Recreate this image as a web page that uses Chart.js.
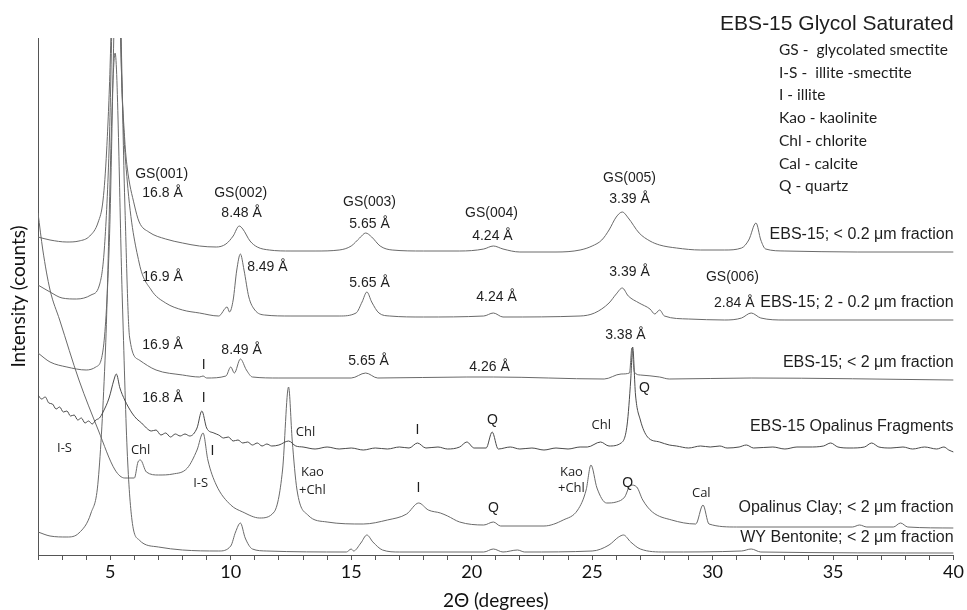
<!DOCTYPE html>
<html lang="en">
<head>
<meta charset="UTF-8">
<title>EBS-15 Glycol Saturated</title>
<script src="https://cdn.jsdelivr.net/npm/chart.js"></script>
<style>
    body { margin: 0; background: #fff; }
    #wrap { width: 967px; height: 610px; }
</style>
</head>
<body>
<div id="wrap"><canvas id="chart" width="967" height="610"></canvas></div>
<script>
// [2-theta (deg), counts above the trace's own baseline]
const ebs15Fine = [
    [2.0,15],[2.5,12],[3.2,10],[3.7,11],[4.15,16],[4.5,30],[4.7,52],[4.85,102],[5.0,192],[5.25,450],
    [5.45,192],[5.6,112],[5.7,85],[6.0,47],[6.2,30],[6.6,20],[7.3,13],[8.0,9],[8.7,6],[9.4,5],
    [9.8,8],[10.1,16],[10.35,26],[10.5,23],[10.8,11],[11.1,5],[11.6,2],[12.5,1],[13.5,1],[14.5,2],
    [15.0,6],[15.35,14],[15.6,19],[15.85,15],[16.2,6],[16.7,2],[18,1],[19.5,1],[20.5,3],[20.9,6],
    [21.3,3],[22,0],[23.5,0],[24.5,2],[25.0,6],[25.4,12],[25.7,22],[26.0,35],[26.25,40],[26.5,34],
    [26.95,19],[27.4,11],[27.8,7],[28.5,4],[29.5,2],[30.5,2],[31.2,4],[31.5,12],[31.8,29],[32.0,12],
    [32.2,3],[33,1],[36,0],[40,0]
];
const ebs15Mid = [
    [2.0,35],[2.5,28],[3.0,22],[3.6,21],[4.2,25],[4.55,35],[4.75,70],[4.95,170],[5.25,450],[5.5,220],
    [5.7,140],[6.2,57],[6.7,30],[7.3,17],[8.0,10],[8.7,7],[9.5,4],[9.85,13],[9.95,8],[10.1,20],
    [10.25,50],[10.4,66],[10.55,50],[10.75,23],[11.0,10],[11.4,5],[12.5,4],[14.5,4],[15.2,7],[15.45,18],
    [15.65,28],[15.85,18],[16.15,7],[16.6,4],[18,3],[20.5,4],[20.9,7],[21.3,3],[24.5,4],[25.1,7],
    [25.7,17],[26.0,26],[26.25,32],[26.5,24],[26.95,17],[27.4,11],[27.6,6],[27.8,10],[28.0,4],[29,1],
    [30.5,0],[31.2,2],[31.6,7],[32.0,2],[33,0],[40,0]
];
const ebs15Bulk = [
    [2.0,27],[2.5,18],[3.2,13],[4.0,10],[4.4,13],[4.7,30],[4.95,130],[5.3,450],[5.6,180],[5.8,43],
    [6.2,20],[6.9,10],[8.0,5],[8.7,3],[8.85,4],[9.0,2],[9.8,4],[10.0,13],[10.15,7],[10.4,21],
    [10.65,10],[10.9,3],[12,2],[15,2],[15.6,7],[16.1,2],[19.8,3],[20.9,3],[25.5,1],[26.2,6],
    [26.55,7],[26.65,32],[26.75,8],[27.0,5],[27.8,3],[28.2,1],[31.6,2],[40,0]
];
const opalinusFragments = [
    [2.0,55],[2.15,51],[2.3,53],[2.45,47],[2.6,46],[2.75,41],[2.9,43],[3.05,38],[3.2,39],[3.35,34],
    [3.5,35],[3.65,30],[3.8,32],[3.95,27],[4.1,29],[4.25,26],[4.4,30],[4.55,32],[4.7,38],[4.95,52],
    [5.15,70],[5.25,76],[5.4,62],[5.6,50],[5.9,37],[6.1,31],[6.3,27],[6.5,22],[6.7,19],[6.9,20],
    [7.1,15],[7.3,17],[7.5,13],[7.7,16],[7.9,14],[8.1,16],[8.3,14],[8.6,22],[8.8,39],[9.0,22],
    [9.3,17],[9.5,15],[9.7,12],[9.9,13],[10.1,9],[10.3,10],[10.5,7],[10.7,8],[10.9,5],[11.1,7],
    [11.3,4],[11.5,6],[11.7,4],[12.0,5],[12.4,9],[12.7,4],[13.0,3],[13.5,1],[14.0,3],[14.5,1],
    [15,2],[15.5,0],[16,2],[16.5,1],[17.0,3],[17.4,2],[17.75,7],[18.1,2],[18.6,3],[19.0,1],
    [19.5,3],[19.8,8],[20.1,2],[20.6,2],[20.85,18],[21.1,1],[21.6,3],[22,1],[22.5,2],[23,0],
    [23.5,2],[24.0,1],[24.5,3],[24.8,3],[25.35,8],[25.7,4],[26.2,7],[26.45,25],[26.6,70],[26.68,103],
    [26.8,55],[27.0,30],[27.3,13],[27.8,8],[28.2,5],[28.5,4],[29.0,2],[29.5,4],[29.9,3],[30.3,4],
    [30.6,2],[31.1,3],[31.4,5],[31.7,2],[32.5,3],[33.0,1],[33.5,3],[34.0,3],[34.6,4],[34.9,7],
    [35.2,3],[35.7,2],[36.3,3],[36.6,7],[36.9,3],[37.4,2],[37.9,3],[38.3,1],[38.8,3],[39.3,1],
    [39.6,3],[39.8,0],[40,-2]
];
const opalinusClay = [
    [2.0,315],[2.2,278],[2.5,238],[2.9,208],[3.7,148],[4.5,98],[5.2,58],[5.6,50],[6.0,50],[6.15,66],
    [6.25,68],[6.5,56],[7.0,53],[7.6,54],[8.2,60],[8.6,78],[8.85,95],[9.05,68],[9.4,43],[10.0,23],
    [10.5,16],[11.2,10],[11.8,16],[12.15,58],[12.4,141],[12.55,88],[12.75,38],[13.2,13],[14,6],[15.5,4],
    [16.5,8],[17.3,14],[17.8,25],[18.2,18],[18.7,15],[19.0,12],[19.5,6],[20.5,3],[20.9,6],[21.2,2],
    [23,2],[23.8,8],[24.4,18],[24.75,38],[24.95,63],[25.2,40],[25.6,25],[26.0,26],[26.35,31],[26.6,43],
    [26.85,41],[27.1,28],[27.5,16],[28.3,8],[29.3,4],[29.6,23],[29.85,4],[31,1],[35.8,1],[36.1,3],
    [36.4,1],[37.5,1],[37.8,5],[38.1,1],[40,0]
];
const wyBentonite = [
    [2.0,21],[2.5,17],[3.2,16],[3.7,20],[4.2,40],[4.5,73],[4.8,203],[5.2,500],[5.5,253],[5.7,103],
    [5.9,33],[6.2,13],[7.0,6],[8.0,3],[9.5,2],[10.0,7],[10.2,21],[10.4,30],[10.6,15],[10.9,4],
    [11.5,2],[14.8,1],[15.0,4],[15.1,2],[15.4,10],[15.65,18],[15.9,11],[16.3,3],[17,1],[20.5,1],
    [20.9,4],[21.3,1],[21.9,3],[22.2,1],[25.0,2],[25.7,8],[26.1,16],[26.3,18],[26.6,11],[27.0,4],
    [28,1],[31.2,2],[31.6,4],[32.0,1],[40,0]
];

const traces = [ebs15Fine, ebs15Mid, ebs15Bulk, opalinusFragments, opalinusClay, wyBentonite];
const stackOffsets = [303, 235, 175, 105, 27, 2];

const sampleNames = [
    'EBS-15; < 0.2 \u03bcm fraction',
    'EBS-15; 2 - 0.2 \u03bcm fraction',
    'EBS-15; < 2 \u03bcm fraction',
    'EBS-15 Opalinus Fragments',
    'Opalinus Clay; < 2 \u03bcm fraction',
    'WY Bentonite; < 2 \u03bcm fraction'
];
const sampleNameY = [320, 252, 192, 128, 47, 17];

const chartTitle = 'EBS-15 Glycol Saturated';
const legendLines = [
    'GS -  glycolated smectite',
    'I-S -  illite -smectite',
    'I - illite',
    'Kao - kaolinite',
    'Chl - chlorite',
    'Cal - calcite',
    'Q - quartz'
];

// [text, 2-theta, height]
const peakLabels = [
    ['GS(001)', 7.13, 381], ['16.8 \u00c5', 7.17, 362],
    ['GS(002)', 10.41, 362], ['8.48 \u00c5', 10.45, 342],
    ['GS(003)', 15.76, 353], ['5.65 \u00c5', 15.76, 331],
    ['GS(004)', 20.82, 342], ['4.24 \u00c5', 20.86, 319],
    ['GS(005)', 26.55, 377], ['3.39 \u00c5', 26.55, 356],
    ['16.9 \u00c5', 7.17, 278], ['8.49 \u00c5', 11.52, 288], ['5.65 \u00c5', 15.76, 272],
    ['4.24 \u00c5', 21.03, 258], ['3.39 \u00c5', 26.55, 283],
    ['GS(006)', 30.82, 278], ['2.84 \u00c5', 30.9, 252],
    ['16.9 \u00c5', 7.17, 210], ['I', 8.88, 190], ['8.49 \u00c5', 10.45, 205],
    ['5.65 \u00c5', 15.72, 194], ['4.26 \u00c5', 20.74, 188], ['3.38 \u00c5', 26.38, 220],
    ['Q', 27.17, 167],
    ['16.8 \u00c5', 7.17, 157], ['I', 8.88, 157], ['I', 17.75, 125], ['Q', 20.86, 135],
    ['I', 9.24, 104], ['I', 17.79, 67], ['Q', 20.9, 47], ['Q', 26.47, 72]
];
const mineralLabels = [
    ['Chl', 13.1, 123], ['Chl', 25.38, 130],
    ['I-S', 3.1, 107], ['Chl', 6.26, 105], ['I-S', 8.75, 72],
    ['Kao', 13.39, 83], ['+Chl', 13.39, 65],
    ['Kao', 24.14, 83], ['+Chl', 24.14, 67],
    ['Cal', 29.53, 62]
];

const datasets = traces.map((pts, i) => ({
    label: sampleNames[i],
    data: pts.map(p => ({ x: p[0], y: p[1] + stackOffsets[i] })),
    borderColor: i === 3 ? '#4a4a4a' : '#6a6a6a',
    borderWidth: 1,
    pointRadius: 0,
    cubicInterpolationMode: 'monotone',
    fill: false
}));

const textPlugin = {
    id: 'texts',
    afterDatasetsDraw(chart) {
        const { ctx, scales: { x, y } } = chart;
        ctx.save();
        ctx.fillStyle = '#1e1e1e';
        ctx.textBaseline = 'middle';
        ctx.textAlign = 'center';
        ctx.font = '14px "Liberation Sans", Arial, sans-serif';
        peakLabels.forEach(([t, tx, ty]) => ctx.fillText(t, x.getPixelForValue(tx), y.getPixelForValue(ty)));
        ctx.font = '13px "Open Sans", sans-serif';
        mineralLabels.forEach(([t, tx, ty]) => ctx.fillText(t, x.getPixelForValue(tx), y.getPixelForValue(ty)));

        ctx.textAlign = 'right';
        ctx.font = '16px "Liberation Sans", Arial, sans-serif';
        sampleNames.forEach((name, i) => ctx.fillText(name, x.getPixelForValue(40), y.getPixelForValue(sampleNameY[i])));

        ctx.font = '21px "Liberation Sans", Arial, sans-serif';
        ctx.fillText(chartTitle, x.getPixelForValue(40), 24);
        ctx.textAlign = 'left';
        ctx.font = '15.5px Lato, sans-serif';
        legendLines.forEach((t, i) => ctx.fillText(t, 779, 50 + i * 22.7));
        ctx.restore();
    }
};

new Chart(document.getElementById('chart'), {
    type: 'line',
    data: { datasets: datasets },
    options: {
        responsive: false,
        animation: false,
        events: [],
        layout: { padding: { top: 38, right: 13, left: 0, bottom: 0 } },
        plugins: { legend: { display: false }, tooltip: { enabled: false } },
        scales: {
            x: {
                type: 'linear',
                min: 2,
                max: 40,
                afterFit: s => { s.height = 55; },
                ticks: {
                    stepSize: 1,
                    autoSkip: false,
                    maxRotation: 0,
                    padding: 3,
                    color: '#111',
                    font: { family: 'Lato', size: 18, lineHeight: 1 },
                    callback: v => (v % 5 === 0 ? String(v) : '')
                },
                grid: { drawOnChartArea: false, tickLength: 5, color: '#555' },
                border: { color: '#555', width: 1 },
                title: {
                    display: true,
                    text: '2\u0398 (degrees)',
                    color: '#111',
                    padding: { top: 0, bottom: 0 },
                    font: { family: 'Lato', size: 19, lineHeight: 1 }
                }
            },
            y: {
                min: 0,
                max: 517,
                afterFit: s => { s.width = 38; },
                ticks: { display: false },
                grid: { display: false },
                border: { color: '#555', width: 1 },
                title: {
                    display: true,
                    text: 'Intensity (counts)',
                    color: '#111',
                    padding: { top: 9, bottom: 0 },
                    font: { family: 'Lato', size: 19, lineHeight: 1 }
                }
            }
        }
    },
    plugins: [textPlugin]
});
</script>
</body>
</html>
